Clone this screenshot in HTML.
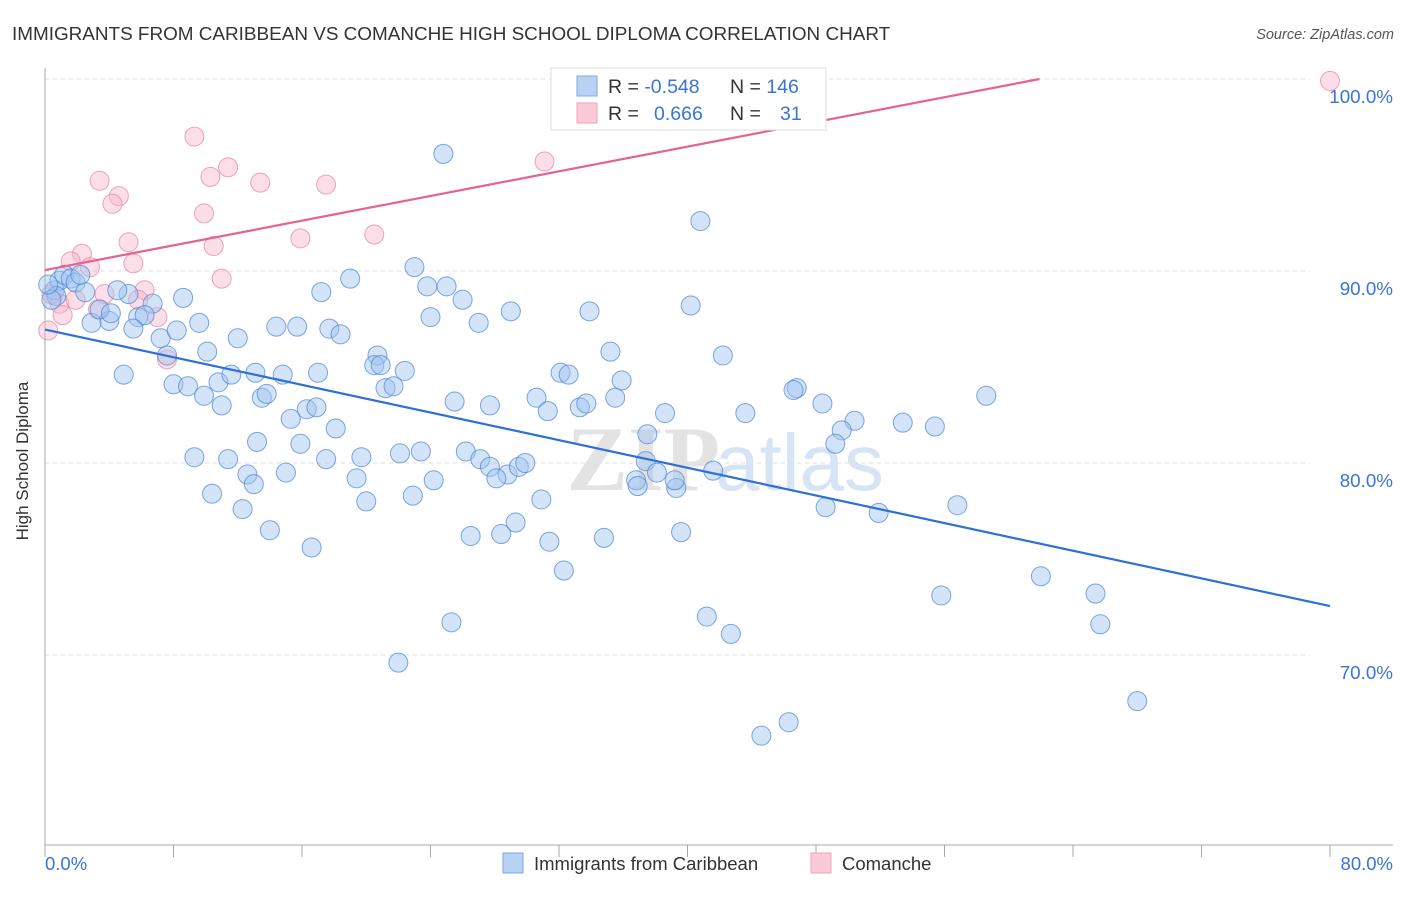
<!DOCTYPE html>
<html><head><meta charset="utf-8"><style>
body{margin:0;background:#fff;font-family:"Liberation Sans",sans-serif;}
</style></head><body>
<svg width="1406" height="892" xmlns="http://www.w3.org/2000/svg">
<text x="12" y="40" font-size="18.9" fill="#333">IMMIGRANTS FROM CARIBBEAN VS COMANCHE HIGH SCHOOL DIPLOMA CORRELATION CHART</text>
<text x="1394" y="39" font-size="14.5" fill="#555" font-style="italic" text-anchor="end">Source: ZipAtlas.com</text>
<g id="grid"></g>
<text x="720" y="490" font-size="92" font-family="Liberation Serif,serif" font-weight="bold" fill="#e3e3e3" text-anchor="end">ZIP</text>
<text x="715" y="490" font-size="80" fill="#d6e4f5">atlas</text>
<g id="axes"></g>
<g id="pts"></g>
<g id="lines"></g>
<text x="22" y="455" font-size="17" fill="#333" text-anchor="middle" transform="rotate(-90 28 455)">High School Diploma</text>
<g>
<rect x="551" y="68" width="275" height="62" fill="#fff" stroke="#ddd"/>
<rect x="577" y="76" width="20" height="20" fill="#b8d2f4" stroke="#7ea8e0"/>
<rect x="577" y="103" width="20" height="20" fill="#fbc9d8" stroke="#eea4bb"/>
<text x="608" y="93" font-size="19.5" fill="#333">R = <tspan fill="#3a74d6">-0.548</tspan><tspan x="730">N = </tspan><tspan fill="#3a74d6">146</tspan></text>
<text x="608" y="120" font-size="19.5" fill="#333">R = <tspan x="654" fill="#3a74d6">0.666</tspan><tspan x="730">N = </tspan><tspan x="780" fill="#3a74d6">31</tspan></text>
</g>
<g>
<rect x="503" y="853" width="20" height="20" fill="#b8d2f4" stroke="#7ea8e0"/>
<text x="534" y="870" font-size="18.5" fill="#333">Immigrants from Caribbean</text>
<rect x="811" y="853" width="20" height="20" fill="#fbc9d8" stroke="#eea4bb"/>
<text x="842" y="870" font-size="18.5" fill="#333">Comanche</text>
</g>
</svg>
<script>
const blueX=[24.8,40.8,23.0,19.0,23.8,25.0,17.2,26.0,8.6,5.2,4.5,40.2,29.0,33.9,27.0,24.0,9.6,14.4,15.7,17.7,18.4,12.0,7.2,8.2,6.7,5.8,6.2,4.0,2.9,5.5,10.1,7.6,20.7,35.2,42.2,4.9,13.1,14.8,17.0,20.5,20.9,22.4,32.1,32.6,35.9,8.0,8.9,10.8,11.6,9.9,11.0,13.5,13.8,21.2,21.7,46.8,46.6,58.6,30.6,25.5,27.7,31.3,33.3,33.7,35.5,38.6,43.6,48.4,15.3,16.3,16.9,18.1,50.4,53.4,55.4,37.5,49.6,49.2,13.2,15.9,9.3,11.4,17.5,19.7,22.1,23.4,26.2,27.1,27.7,28.8,28.1,29.5,29.9,37.4,38.1,41.6,36.8,36.9,39.3,39.2,15.0,12.6,13.0,19.4,24.2,10.4,20.0,22.9,30.9,12.3,48.6,51.9,56.8,14.0,29.3,26.5,28.4,31.4,34.8,39.6,16.6,32.3,62.0,65.4,55.8,25.3,41.2,42.7,65.7,22.0,68.0,46.3,44.6,0.6,0.9,1.2,1.6,1.9,2.5,2.2,0.7,0.4,0.2,3.4,4.1];
const blueY=[96.1,92.6,90.2,89.6,89.2,89.2,88.9,88.5,88.6,88.8,89.0,88.2,87.9,87.9,87.3,87.6,87.3,87.1,87.1,87.0,86.7,86.5,86.5,86.9,88.3,87.6,87.7,87.4,87.3,87.0,85.8,85.6,85.6,85.8,85.6,84.6,84.7,84.6,84.7,85.1,85.1,84.8,84.7,84.6,84.3,84.1,84.0,84.2,84.6,83.5,83.0,83.4,83.6,83.9,84.0,83.9,83.8,83.5,83.4,83.2,83.0,82.7,82.9,83.1,83.4,82.6,82.6,83.1,82.3,82.8,82.9,81.8,82.2,82.1,81.9,81.5,81.7,81.0,81.1,81.0,80.3,80.2,80.2,80.3,80.5,80.6,80.6,80.2,79.8,79.4,79.2,79.8,80.0,80.1,79.5,79.6,79.1,78.8,78.7,79.1,79.5,79.4,78.9,79.2,79.1,78.4,78.0,78.3,78.1,77.6,77.7,77.4,77.8,76.5,76.9,76.2,76.3,75.9,76.1,76.4,75.6,74.4,74.1,73.2,73.1,71.7,72.0,71.1,71.6,69.6,67.6,66.5,65.8,89.0,89.5,89.8,89.6,89.4,88.9,89.8,88.7,88.5,89.3,88.0,87.8];
const pinkX=[80.0,33.3,9.3,31.1,3.4,11.4,10.3,13.4,17.5,4.6,4.2,9.9,5.2,10.5,15.9,20.5,2.3,1.6,5.5,2.8,11.0,3.7,6.2,5.8,0.9,1.9,0.4,3.3,7.0,1.1,0.2,7.6];
const pinkY=[99.9,99.9,97.0,95.7,94.7,95.4,94.9,94.6,94.5,93.9,93.5,93.0,91.5,91.3,91.7,91.9,90.9,90.5,90.4,90.2,89.6,88.8,89.0,88.5,88.3,88.5,88.8,88.0,87.6,87.7,86.9,85.4];
const blueTrend=[86.95,72.55];   // y at x=0 and x=80
const pinkTrend=[90.05,0.1607];  // intercept, slope
const yTicks=[100,90,80,70];
const yTickLabels=["100.0%","90.0%","80.0%","70.0%"];
const xTickVals=[0,8,16,24,32,40,48,56,64,72,80];
const NS="http://www.w3.org/2000/svg";
const sx=v=>45+v*(1285/80), sy=v=>79+(100-v)*19.2;
function mk(t,a,p){const e=document.createElementNS(NS,t);for(const k in a)e.setAttribute(k,a[k]);p.appendChild(e);return e;}
const grid=document.getElementById('grid'),axes=document.getElementById('axes'),pts=document.getElementById('pts'),lines=document.getElementById('lines');
yTicks.forEach((v,i)=>{
 const l=mk('line',{x1:45,x2:1310,y1:sy(v),y2:sy(v),stroke:'#ddd','stroke-dasharray':'4,4'},grid);
 
 
 const t=mk('text',{x:1393,y:sy(v)+24,'font-size':18.8,fill:'#3a74d6','text-anchor':'end'},axes);
 t.textContent=yTickLabels[i];
 
 
});
mk('line',{x1:45,x2:45,y1:68,y2:845,stroke:'#aaa'},axes);
mk('line',{x1:45,x2:1393,y1:845,y2:845,stroke:'#aaa'},axes);
xTickVals.forEach(v=>{const t=mk('line',{x1:sx(v),x2:sx(v),y1:845,y2:857,stroke:'#aaa'},axes);
 
 });
const xl0=mk('text',{x:45,y:870,'font-size':18.5,fill:'#3a74d6'},axes);xl0.textContent='0.0%';


const xl1=mk('text',{x:1393,y:870,'font-size':18.5,fill:'#3a74d6','text-anchor':'end'},axes);xl1.textContent='80.0%';


pinkX.forEach((x,i)=>{const c=mk('circle',{cx:sx(x),cy:sy(pinkY[i]),r:9.5,fill:'rgba(247,182,204,0.45)',stroke:'rgba(230,130,160,0.7)','stroke-width':1},pts);
 
 });
blueX.forEach((x,i)=>{const c=mk('circle',{cx:sx(x),cy:sy(blueY[i]),r:9.5,fill:'rgba(160,195,240,0.45)',stroke:'rgba(70,130,215,0.7)','stroke-width':1},pts);
 
 });
const bl=mk('line',{x1:sx(0),y1:sy(blueTrend[0]),x2:sx(80),y2:sy(blueTrend[1]),stroke:'#2f6fd6','stroke-width':2.2},lines);


const xEnd=Math.min(80,(100-pinkTrend[0])/pinkTrend[1]);
const pl=mk('line',{x1:sx(0),y1:sy(pinkTrend[0]),x2:sx(xEnd),y2:sy(pinkTrend[0]+pinkTrend[1]*xEnd),stroke:'#e4648f','stroke-width':2.2},lines);


</script>
</body></html>
